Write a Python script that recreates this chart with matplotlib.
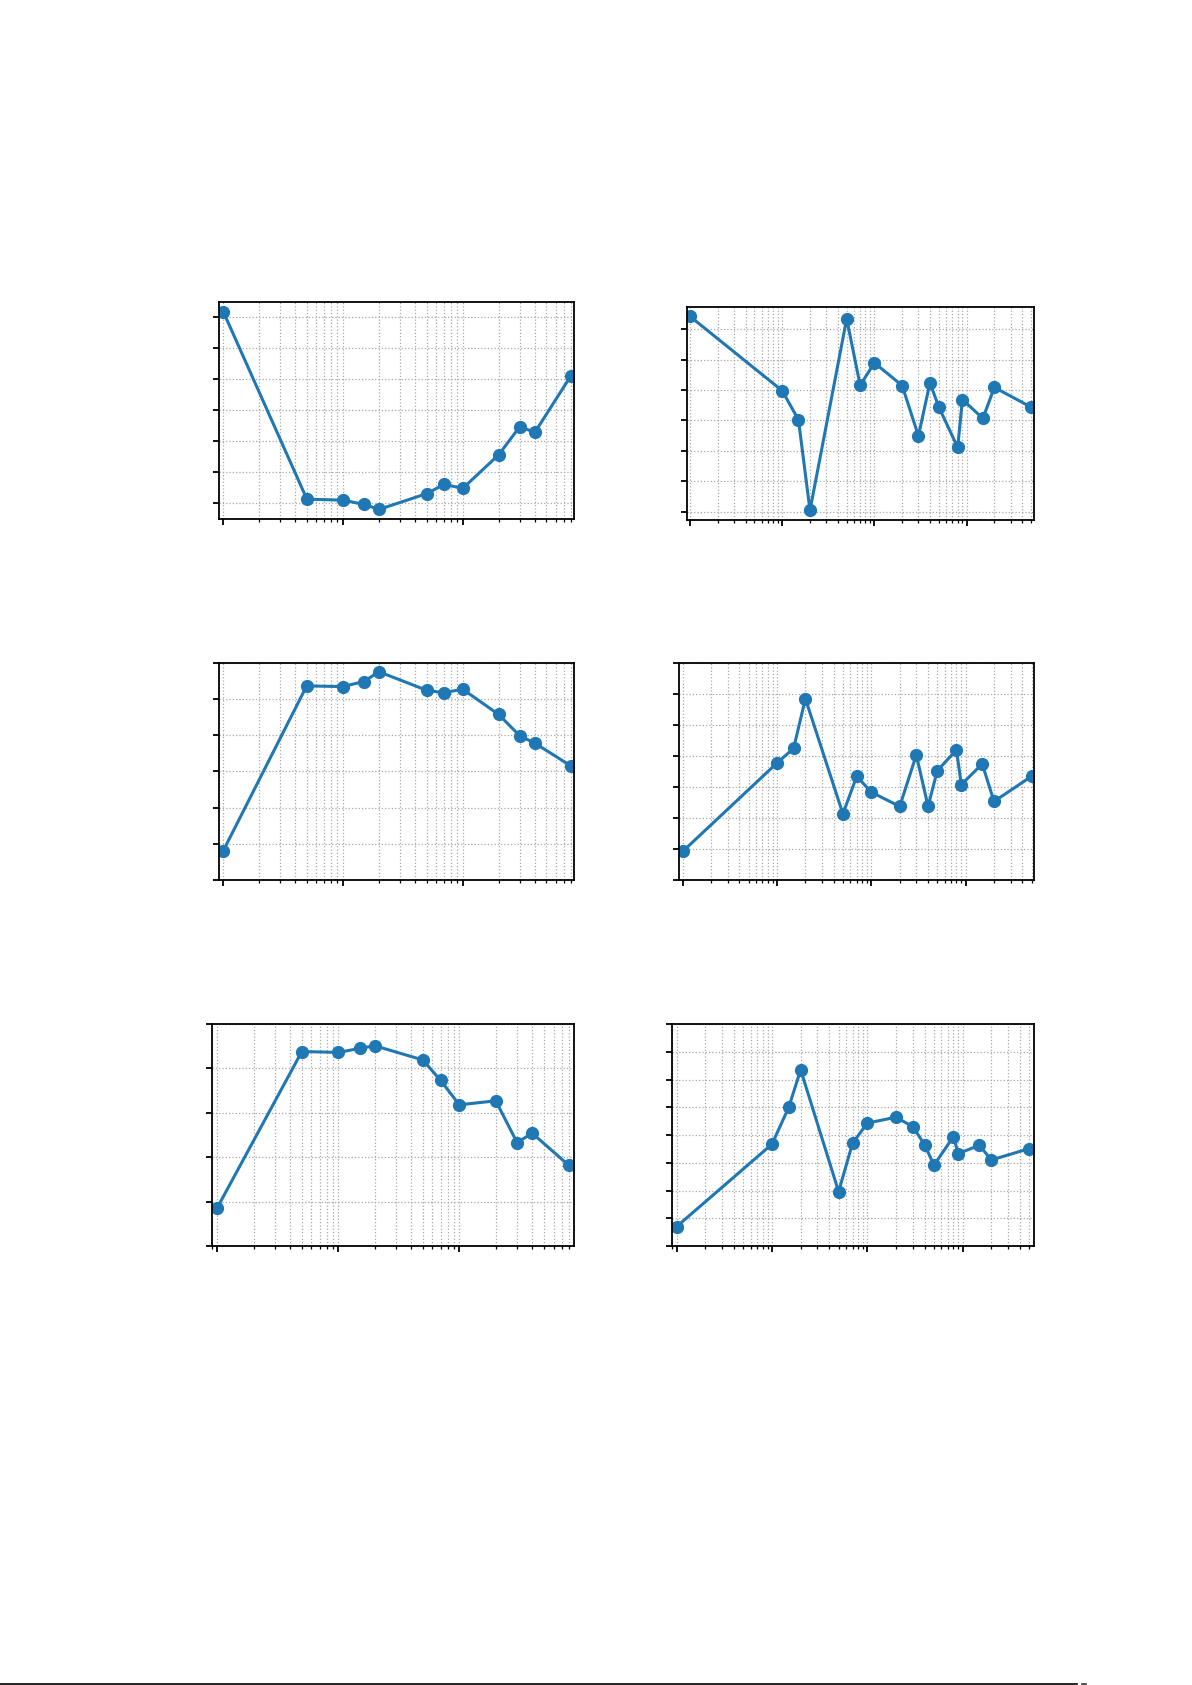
import numpy as np
import matplotlib
matplotlib.use("Agg")
import matplotlib.pyplot as plt
from matplotlib.ticker import MultipleLocator, NullFormatter, LogLocator
from matplotlib.lines import Line2D

# x values (log axis), two sets
x_short = [1, 5, 10, 15, 20, 50, 70, 100, 200, 300, 400, 800]
x_long = [1, 10, 15, 20, 50, 70, 100, 200, 300, 400, 500, 800, 900, 1500, 2000, 5000]

# y values, in units of the (unlabelled) y tick spacing
y_top_left = [6.18, 0.11, 0.08, -0.06, -0.22, 0.29, 0.59, 0.46, 1.55, 2.46, 2.27, 4.10]
y_top_right = [6.43, 3.98, 3.02, 0.04, 6.35, 4.16, 4.90, 4.15, 2.49, 4.24, 3.44,
               2.11, 3.69, 3.07, 4.09, 3.44]
y_mid_left = [-0.21, 4.36, 4.34, 4.48, 4.75, 4.24, 4.17, 4.27, 3.57, 2.98, 2.78, 2.15]
y_mid_right = [-0.08, 2.77, 3.24, 4.84, 1.13, 2.34, 1.83, 1.37, 3.03, 1.37, 2.52,
               3.19, 2.07, 2.74, 1.53, 2.34]
y_bot_left = [-0.14, 3.38, 3.36, 3.45, 3.51, 3.19, 2.73, 2.18, 2.27, 1.33, 1.54, 0.82]
y_bot_right = [-0.30, 2.67, 4.00, 5.35, 0.96, 2.70, 3.43, 3.64, 3.30, 2.65, 1.91,
               2.94, 2.33, 2.63, 2.10, 2.51]

W, H = 1192, 1685
fig = plt.figure(figsize=(W / 100, H / 100), dpi=100)

# axes boxes in pixels: left, top, right, bottom
boxes = [
    (219.3, 301.7, 574.3, 519.3),
    (686.7, 306.7, 1034.3, 520.0),
    (219.0, 662.7, 574.3, 880.0),
    (679.3, 662.7, 1034.3, 880.0),
    (211.7, 1024.0, 574.3, 1246.0),
    (671.7, 1024.0, 1034.3, 1246.0),
]
panels = [
    (x_short, y_top_left, (0.927, 855), None),
    (x_long, y_top_right, (0.92, 5420), None),
    (x_short, y_mid_left, (0.927, 855), (-1, 5)),
    (x_long, y_mid_right, (0.92, 5350), (-1, 6)),
    (x_short, y_bot_left, (0.90, 891), (-1, 4)),
    (x_long, y_bot_right, (0.887, 5650), (-1, 7)),
]

for (l, t, r, b), (xs, ys, xlim, ylim) in zip(boxes, panels):
    ax = fig.add_axes([l / W, 1 - b / H, (r - l) / W, (b - t) / H])
    ax.plot(xs, ys, "o-", color="#1f77b4", lw=2.2, ms=8.5)
    ax.set_xscale("log")
    ax.set_xlim(*xlim)
    if ylim is not None:
        ax.set_ylim(*ylim)
    ax.yaxis.set_major_locator(MultipleLocator(1))
    ax.xaxis.set_major_locator(LogLocator(base=10))
    ax.xaxis.set_minor_locator(LogLocator(base=10, subs=np.arange(2, 10)))
    ax.grid(True, which="both", axis="x", linestyle=":", color="#a8a8a8", lw=0.9)
    ax.grid(True, which="major", axis="y", linestyle=":", color="#a8a8a8", lw=0.9)
    ax.xaxis.set_major_formatter(NullFormatter())
    ax.xaxis.set_minor_formatter(NullFormatter())
    ax.yaxis.set_major_formatter(NullFormatter())
    ax.tick_params(which="major", length=4.5, width=1.3)
    ax.tick_params(which="minor", length=2.5, width=0.9)
    for sp in ax.spines.values():
        sp.set_linewidth(1.3)

# page footer rule
fig.add_artist(Line2D([0, 1077 / W], [1 - 1683.5 / H] * 2, color="black", lw=1.2))
fig.add_artist(Line2D([1082 / W, 1086 / W], [1 - 1683.5 / H] * 2, color="#333333", lw=1.2))

fig.savefig("out.png", dpi=100)
